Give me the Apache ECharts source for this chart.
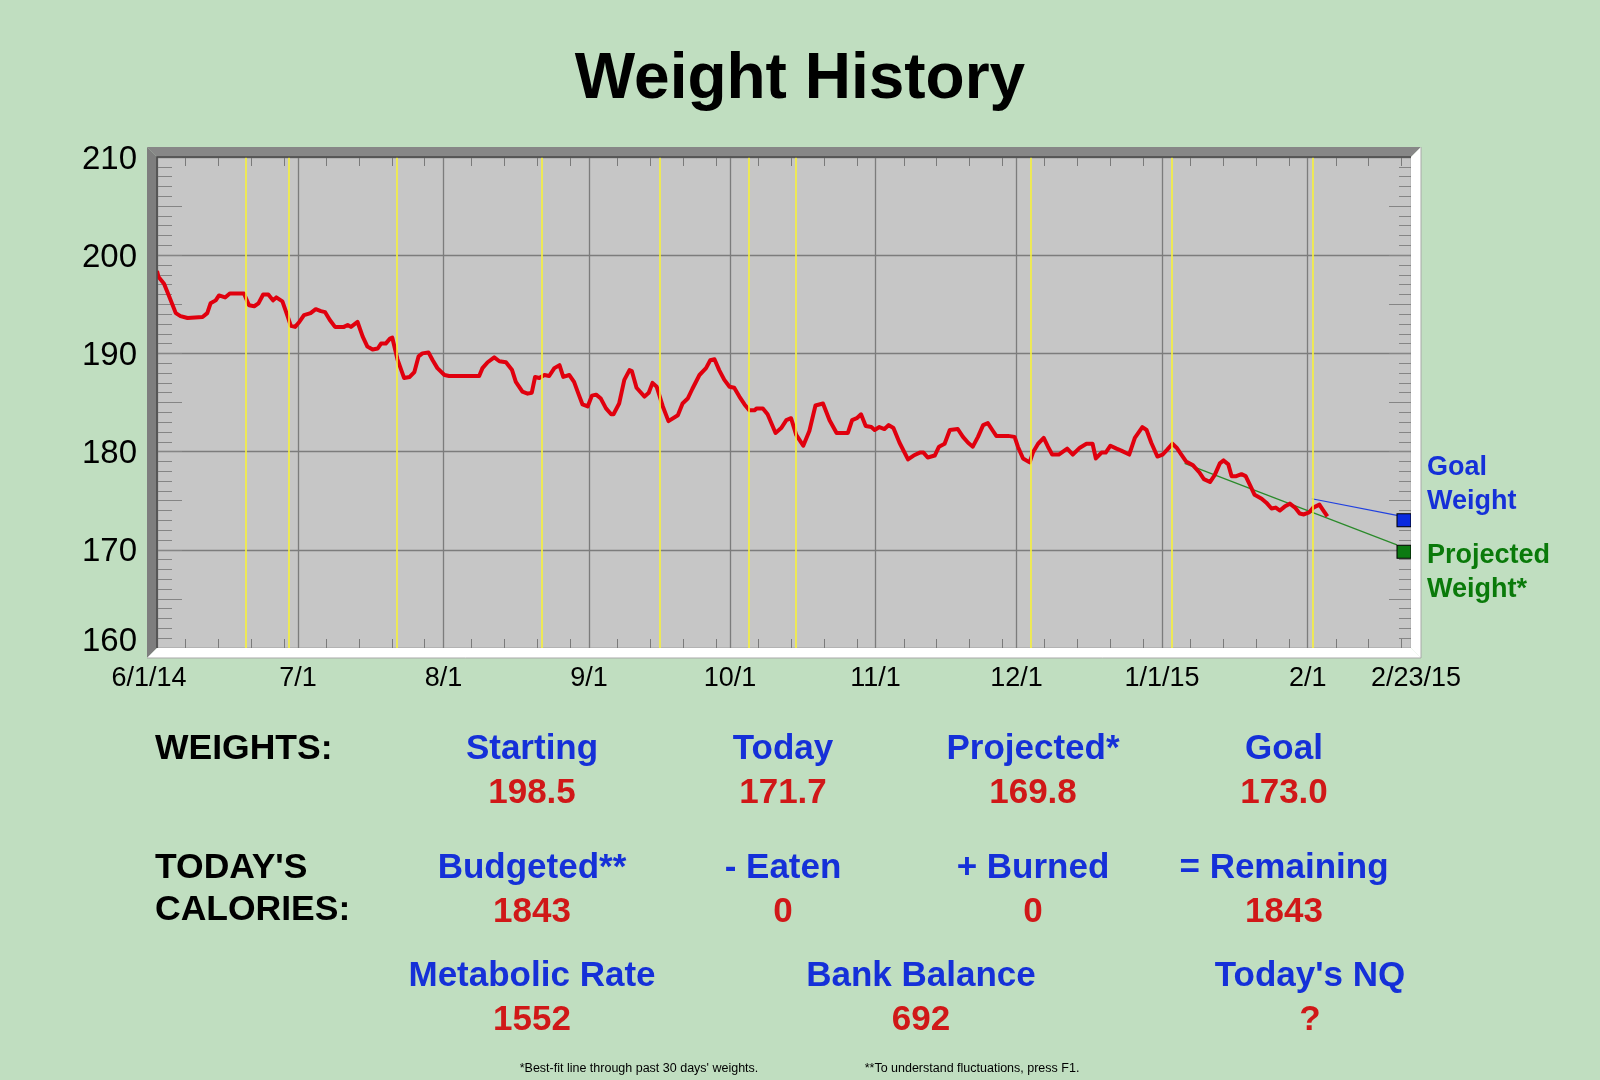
<!DOCTYPE html>
<html>
<head>
<meta charset="utf-8">
<title>Weight History</title>
<script src="https://cdn.jsdelivr.net/npm/echarts@6/dist/echarts.min.js"></script>
<style>
html, body { margin: 0; padding: 0; background: #c0dec0; }
#chart { width: 1600px; height: 1080px; }
</style>
</head>
<body>
<div id="chart"></div>
<script>
// days counted from 6/1/14, weights
var days = [0, 0.3, 1.5, 2.6, 4, 5, 6.5, 9.7, 10.7, 11.4, 12.5, 13.2, 14.5, 15.5, 17.5, 18.5, 19.6, 20.7, 21.6, 22.6,
  23.7, 24.7, 25.4, 26.7, 27.8, 28.5, 29.4, 30.3, 31.3, 32.7, 33.8, 34.9, 35.8, 36.8, 37.9, 38.8, 39.8, 40.6, 41.3, 42.7,
  43.8, 44.8, 45.9, 47, 47.7, 48.7, 49.6, 50.1, 51.2, 52.6, 53.8, 54.8, 55.7, 56.5, 57.8, 58.7, 59.7, 61.2, 62.2, 68.6,
  69.3, 70.4, 71.8, 72.9, 74.3, 75.6, 76.4, 77.8, 78.9, 79.8, 80.5, 81.4, 82.5, 83.5, 84.6, 85.7, 86.5, 87.8, 88.8, 89.8,
  90.6, 91.7, 92.6, 93.5, 94.5, 95.6, 96.7, 97.2, 98.4, 99.5, 100.6, 101.1, 102.1, 103.8, 104.7, 105.5, 106.4, 107.7, 108.9, 110.9,
  111.9, 113, 114, 115.5, 116.9, 117.8, 118.7, 119.7, 120.8, 121.9, 122.9, 124, 125.1, 126.1, 127.2, 127.7, 129, 130, 131.7, 132.9,
  134, 135, 136.1, 137.6, 138.9, 140.2, 141.8, 143.2, 144.7, 147.1, 148, 149, 149.9, 150.9, 152.1, 152.8, 153.8, 154.9, 155.8, 156.8,
  158.1, 159.9, 161.1, 162.4, 163.2, 164.1, 165.6, 166.5, 167.7, 168.8, 170.5, 171.6, 172.7, 173.7, 174.8, 175.9, 176.9, 178, 178.7, 181.2,
  182.6, 183.3, 184.4, 185.8, 186.5, 187.6, 188.8, 189.7, 190.6, 192, 193.8, 195, 196.5, 197.9, 199.2, 199.9, 201.1, 202, 203, 204.3,
  205.3, 207, 208.2, 209.8, 210.7, 211.7, 213, 214.1, 215.1, 216.2, 217.1, 218.1, 219.1, 220.6, 221.9, 222.9, 224.2, 225.2, 226.3, 227.1,
  228.1, 228.8, 229.8, 230.9, 231.8, 232.8, 233.7, 235.2, 236.2, 237.3, 238.2, 239.1, 240.1, 241.2, 242.3, 243.3, 244.2, 245.3, 246.2, 247.5,
  248.2, 249.2];
var weights = [198.4, 197.8, 197.1, 195.8, 194.1, 193.8, 193.6, 193.7, 194.1, 195.1, 195.4, 195.9, 195.7, 196.1, 196.1, 196.1, 194.9, 194.8, 195.1, 196.0,
  196.0, 195.4, 195.7, 195.3, 193.8, 192.8, 192.7, 193.2, 193.9, 194.1, 194.5, 194.3, 194.2, 193.4, 192.7, 192.7, 192.7, 192.9, 192.7, 193.2,
  191.7, 190.7, 190.4, 190.5, 191.0, 191.0, 191.5, 191.6, 189.4, 187.5, 187.6, 188.1, 189.7, 190.0, 190.1, 189.3, 188.5, 187.8, 187.7, 187.7,
  188.5, 189.1, 189.6, 189.2, 189.1, 188.3, 187.1, 186.1, 185.9, 186.0, 187.6, 187.5, 187.8, 187.7, 188.5, 188.8, 187.6, 187.8, 187.1, 185.8,
  184.8, 184.6, 185.7, 185.8, 185.4, 184.4, 183.8, 183.8, 184.9, 187.3, 188.3, 188.2, 186.5, 185.6, 186.0, 187.0, 186.6, 184.6, 183.1, 183.7,
  184.9, 185.4, 186.4, 187.8, 188.5, 189.3, 189.4, 188.3, 187.3, 186.6, 186.5, 185.6, 184.8, 184.2, 184.2, 184.4, 184.4, 183.8, 181.9, 182.4,
  183.2, 183.4, 181.7, 180.6, 182.1, 184.7, 184.9, 183.2, 181.9, 181.9, 183.2, 183.4, 183.8, 182.6, 182.5, 182.2, 182.5, 182.3, 182.7, 182.4,
  180.9, 179.2, 179.6, 179.9, 179.9, 179.4, 179.6, 180.5, 180.8, 182.2, 182.3, 181.5, 180.9, 180.5, 181.5, 182.7, 182.9, 182.1, 181.6, 181.6,
  181.5, 180.5, 179.3, 178.9, 179.9, 180.8, 181.4, 180.5, 179.7, 179.7, 180.3, 179.7, 180.4, 180.8, 180.8, 179.3, 179.9, 179.9, 180.6, 180.3,
  180.1, 179.7, 181.4, 182.5, 182.2, 180.9, 179.5, 179.7, 180.2, 180.8, 180.4, 179.7, 179.0, 178.6, 177.9, 177.2, 176.9, 177.6, 178.8, 179.1,
  178.7, 177.5, 177.5, 177.7, 177.5, 176.5, 175.6, 175.2, 174.8, 174.2, 174.3, 174.0, 174.4, 174.7, 174.3, 173.7, 173.6, 173.8, 174.3, 174.6,
  174.1, 173.4];

var goalLineDays = [245.9, 264];
var goalLineWeights = [175.2, 173.5];
var projLineDays = [218.8, 264];
var projLineWeights = [178.8, 170.5];
var goalWeight = 173.0;
var projectedWeight = 169.8;

var lastDay = 267;
var monthDays = [0, 30, 61, 92, 122, 153, 183, 214, 245, 267];
var monthLabels = ['6/1/14', '7/1', '8/1', '9/1', '10/1', '11/1', '12/1', '1/1/15', '2/1', '2/23/15'];
var weekTickDays = [6, 13, 20, 27, 36, 43, 50, 57, 67, 74, 81, 88, 98, 105, 112, 119, 128, 135, 142, 149,
  159, 166, 173, 180, 189, 196, 203, 210, 220, 227, 234, 241, 251, 258, 265];
var yellowDays = [19, 28, 51, 82, 107, 126, 136, 186, 216, 246];

var weightHeads = ['Starting', 'Today', 'Projected*', 'Goal'];
var weightVals = ['198.5', '171.7', '169.8', '173.0'];
var calHeads = ['Budgeted**', '- Eaten', '+ Burned', '= Remaining'];
var calVals = ['1843', '0', '0', '1843'];
var extraHeads = ['Metabolic Rate', 'Bank Balance', "Today's NQ"];
var extraVals = ['1552', '692', '?'];

var FONT = '"Liberation Sans", Arial, sans-serif';
var BLUE = '#1530d8', RED = '#d01818', GREEN = '#0a7a0a';

var catData = [];
for (var i = 0; i <= lastDay; i++) {
  var k = monthDays.indexOf(i);
  catData.push(k >= 0 ? monthLabels[k] : '');
}
function isMonth(idx) { return monthDays.indexOf(idx) >= 0; }
function isWeek(idx) { return weekTickDays.indexOf(idx) >= 0; }

function pairs(xs, ys) {
  return xs.map(function (x, i) { return [x, ys[i]]; });
}

// plot box, used for the bevelled frame
var L = 157, T = 157, R = 1411, B = 648, bw = 10;

function txt(s, x, y, color, size, align) {
  return {
    type: 'text', x: x, y: y, silent: true, z: 20,
    style: {
      text: s, fill: color, align: align || 'center', verticalAlign: 'middle',
      font: 'bold ' + size + 'px ' + FONT
    }
  };
}

var graphics = [
  { type: 'polygon', silent: true, z: 10, shape: { points: [[L - bw, T - bw], [R + bw, T - bw], [R, T], [L, T]] }, style: { fill: '#878787' } },
  { type: 'polygon', silent: true, z: 10, shape: { points: [[L - bw, T - bw], [L, T], [L, B], [L - bw, B + bw]] }, style: { fill: '#7e7e7e' } },
  { type: 'polygon', silent: true, z: 10, shape: { points: [[R + bw, T - bw], [R, T], [R, B], [R + bw, B + bw]] }, style: { fill: '#ffffff' } },
  { type: 'polygon', silent: true, z: 10, shape: { points: [[L - bw, B + bw], [R + bw, B + bw], [R, B], [L, B]] }, style: { fill: '#ffffff' } },
  { type: 'polyline', silent: true, z: 11, shape: { points: [[L, B], [L, T], [R, T]] }, style: { stroke: '#4a4a4a', lineWidth: 1.5 } },
  { type: 'polyline', silent: true, z: 11, shape: { points: [[R + bw, T - bw], [R + bw, B + bw], [L - bw, B + bw]] }, style: { stroke: '#a8a8a8', lineWidth: 1 } },
  txt('Weight History', 800, 80, '#000', 64),
  txt('Goal', 1427, 468, BLUE, 27, 'left'),
  txt('Weight', 1427, 502, BLUE, 27, 'left'),
  txt('Projected', 1427, 556, GREEN, 27, 'left'),
  txt('Weight*', 1427, 590, GREEN, 27, 'left'),
  txt('WEIGHTS:', 155, 749, '#000', 35.5, 'left'),
  txt("TODAY'S", 155, 868, '#000', 35.5, 'left'),
  txt('CALORIES:', 155, 910, '#000', 35.5, 'left')
];
var colX = [532, 783, 1033, 1284];
weightHeads.forEach(function (s, i) {
  graphics.push(txt(s, colX[i], 749, BLUE, 35));
  graphics.push(txt(weightVals[i], colX[i], 793, RED, 35));
});
calHeads.forEach(function (s, i) {
  graphics.push(txt(s, colX[i], 868, BLUE, 35));
  graphics.push(txt(calVals[i], colX[i], 912, RED, 35));
});
var extraX = [532, 921, 1310];
extraHeads.forEach(function (s, i) {
  graphics.push(txt(s, extraX[i], 976, BLUE, 35));
  graphics.push(txt(extraVals[i], extraX[i], 1020, RED, 35));
});
graphics.push({
  type: 'text', x: 639, y: 1069, silent: true,
  style: { text: "*Best-fit line through past 30 days' weights.", fill: '#000', align: 'center', verticalAlign: 'middle', font: '12.5px ' + FONT }
});
graphics.push({
  type: 'text', x: 972, y: 1069, silent: true,
  style: { text: '**To understand fluctuations, press F1.', fill: '#000', align: 'center', verticalAlign: 'middle', font: '12.5px ' + FONT }
});

var chart = echarts.init(document.getElementById('chart'));
var option = {
  backgroundColor: '#c0dec0',
  animation: false,
  grid: {
    left: L, top: T, right: 1600 - R, bottom: 1080 - B,
    show: true, backgroundColor: '#c6c6c6', borderWidth: 0
  },
  xAxis: [
    {
      type: 'category', position: 'bottom', data: catData, boundaryGap: false,
      axisLine: { show: false },
      axisTick: { show: true, inside: true, length: 9, interval: function (idx) { return isWeek(idx); }, lineStyle: { color: '#7a7a7a' } },
      axisLabel: {
        interval: function (idx) { return isMonth(idx); }, margin: 17,
        color: '#000', fontSize: 27, fontFamily: FONT,
        formatter: function (v, idx) {
          if (idx === 0) return '{first|' + v + '}';
          if (idx === lastDay) return '{last|' + v + '}';
          return v;
        },
        rich: {
          first: { fontSize: 27, fontFamily: FONT, color: '#000', padding: [0, 16, 0, 0] },
          last: { fontSize: 27, fontFamily: FONT, color: '#000', padding: [0, 0, 0, 10] }
        }
      },
      splitLine: { show: true, interval: function (idx) { return isMonth(idx); }, lineStyle: { color: '#7c7c7c', width: 1.3 } }
    },
    {
      type: 'category', position: 'top', data: catData, boundaryGap: false,
      axisLine: { show: false },
      axisTick: { show: true, inside: true, length: 9, interval: function (idx) { return isWeek(idx); }, lineStyle: { color: '#7a7a7a' } },
      axisLabel: { show: false },
      splitLine: { show: false }
    },
    { type: 'value', min: 0, max: lastDay, show: false }
  ],
  yAxis: [
    {
      type: 'value', position: 'left', min: 160, max: 210, interval: 10,
      axisLine: { show: false }, axisTick: { show: false },
      axisLabel: {
        margin: 20, color: '#000', fontSize: 33, fontFamily: FONT,
        formatter: function (v) {
          return v === 160 ? '{lo|' + v + '}' : '{n|' + v + '}';
        },
        rich: {
          n: { fontSize: 33, fontFamily: FONT, color: '#000', padding: [5, 0, 0, 0] },
          lo: { fontSize: 33, fontFamily: FONT, color: '#000', padding: [0, 0, 12, 0] }
        }
      },
      splitLine: { show: true, lineStyle: { color: '#7c7c7c', width: 1.3 } }
    },
    {
      type: 'value', position: 'left', offset: 0, min: 160, max: 210, interval: 5,
      axisLine: { show: false }, axisLabel: { show: false }, splitLine: { show: false },
      axisTick: { show: true, inside: true, length: 25, lineStyle: { color: '#858585' } },
      minorTick: { show: true, splitNumber: 5, length: 15, lineStyle: { color: '#858585' } }
    },
    {
      type: 'value', position: 'right', offset: 0, min: 160, max: 210, interval: 5,
      axisLine: { show: false }, axisLabel: { show: false }, splitLine: { show: false },
      axisTick: { show: true, inside: true, length: 22, lineStyle: { color: '#858585' } },
      minorTick: { show: true, splitNumber: 5, length: 12, lineStyle: { color: '#858585' } }
    }
  ],
  series: [
    {
      name: 'days marked', type: 'line', xAxisIndex: 2, yAxisIndex: 0, data: [], z: 1,
      markLine: {
        silent: true, symbol: 'none', label: { show: false },
        lineStyle: { color: '#f8f23a', type: 'solid', width: 1.6 },
        data: yellowDays.map(function (d) { return { xAxis: d }; })
      }
    },
    {
      name: 'Projected', type: 'line', xAxisIndex: 2, yAxisIndex: 0, z: 3,
      data: pairs(projLineDays, projLineWeights), showSymbol: false,
      lineStyle: { color: '#2a8a2a', width: 1.2 }
    },
    {
      name: 'Goal', type: 'line', xAxisIndex: 2, yAxisIndex: 0, z: 3,
      data: pairs(goalLineDays, goalLineWeights), showSymbol: false,
      lineStyle: { color: '#2040e0', width: 1.2 }
    },
    {
      name: 'Weight', type: 'line', xAxisIndex: 2, yAxisIndex: 0, z: 4,
      data: pairs(days, weights), showSymbol: false,
      lineStyle: { color: '#e0000e', width: 4, join: 'round' }
    },
    {
      name: 'markers', type: 'scatter', xAxisIndex: 2, yAxisIndex: 0, z: 5, clip: false,
      symbol: 'rect', symbolSize: [14, 13], symbolOffset: [-7, 0],
      data: [
        { value: [lastDay, goalWeight], itemStyle: { color: '#0a2ae0' } },
        { value: [lastDay, projectedWeight], itemStyle: { color: '#0c7a12' } }
      ],
      itemStyle: { borderColor: '#000', borderWidth: 1, opacity: 1 }
    }
  ],
  graphic: graphics
};
chart.setOption(option);
</script>
</body>
</html>
